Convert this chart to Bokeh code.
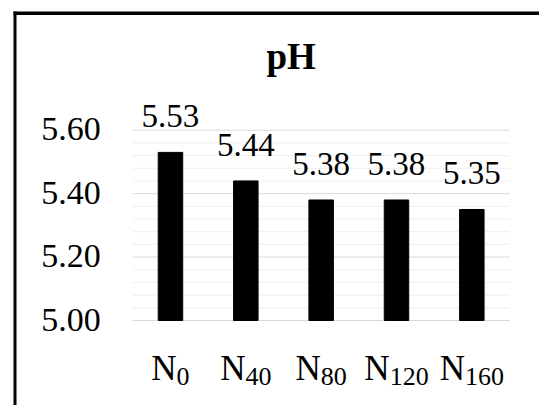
from bokeh.plotting import figure
from bokeh.models import ColumnDataSource, LabelSet, Label, Range1d, BoxAnnotation
from bokeh.embed import file_html
from bokeh.resources import INLINE

# ---- data ----
categories = ["N0", "N40", "N80", "N120", "N160"]
subscripts = ["0", "40", "80", "120", "160"]
ph_values = [5.53, 5.44, 5.38, 5.38, 5.35]
y_min, y_max = 5.0, 5.6
major_ticks = [5.0, 5.2, 5.4, 5.6]
minor_ticks = [5.04, 5.08, 5.12, 5.16, 5.24, 5.28, 5.32, 5.36,
               5.44, 5.48, 5.52, 5.56]
tick_labels = ["5.00", "5.20", "5.40", "5.60"]
title_text = "pH"

FONT = "Liberation Serif"

# layout (pixels on the canvas)
W, H = 539, 405
PLOT_L, PLOT_R = 132.3, 509.0      # plot area left/right
PLOT_T, PLOT_B = 129.7, 320.0      # plot area top/bottom
n = len(categories)
xpx = (PLOT_R - PLOT_L) / n
ypx = (PLOT_B - PLOT_T) / (y_max - y_min)
x_lo, x_hi = -PLOT_L / xpx, n + (W - PLOT_R) / xpx
y_lo, y_hi = y_min - (H - PLOT_B) / ypx, y_max + PLOT_T / ypx

N_W = 25.3   # approx width of "N" in px
D_W = 13.0   # approx width of a subscript digit in px
centers = [i + 0.5 for i in range(n)]
offsets = [N_W / 2 - len(s) * D_W / 2 for s in subscripts]

src = ColumnDataSource(dict(
    x=centers, cat=categories, val=ph_values,
    lbl=[f"{v:.2f}" for v in ph_values],
    sub=subscripts, base=[y_min] * n, nn=["N"] * n, off=offsets,
))

p = figure(width=W, height=H, x_range=Range1d(x_lo, x_hi), y_range=Range1d(y_lo, y_hi),
           x_axis_type=None, y_axis_type=None,
           output_backend="svg", toolbar_location=None, min_border=0)
p.outline_line_color = None
p.background_fill_color = "white"
p.border_fill_color = "white"
p.grid.visible = False

# grid lines over the plot area
p.segment(x0=0, x1=n, y0=minor_ticks, y1=minor_ticks, line_color="#eeeeee", line_width=1)
p.segment(x0=0, x1=n, y0=major_ticks, y1=major_ticks, line_color="#d9d9d9", line_width=1)

# bars
p.vbar(x="x", top="val", bottom=y_min, width=0.325, source=src,
       fill_color="black", line_color="black")

# y tick labels
tsrc = ColumnDataSource(dict(y=major_ticks, t=tick_labels, x0=[0] * len(major_ticks)))
p.add_layout(LabelSet(x="x0", y="y", text="t", source=tsrc, x_offset=-32, y_offset=1,
                      text_align="right", text_baseline="middle",
                      text_font=FONT, text_font_size="34px", text_color="black"))

# data labels
p.add_layout(LabelSet(x="x", y="val", text="lbl", source=src,
                      text_align="center", text_baseline="alphabetic",
                      y_offset=25, text_font=FONT, text_font_size="33px",
                      text_color="black"))

# category labels: N + subscript
p.add_layout(LabelSet(x="x", y="base", text="nn", source=src,
                      x_offset="off", y_offset=-59,
                      text_align="right", text_baseline="alphabetic",
                      text_font=FONT, text_font_size="35px", text_color="black"))
p.add_layout(LabelSet(x="x", y="base", text="sub", source=src,
                      x_offset="off", y_offset=-64,
                      text_align="left", text_baseline="alphabetic",
                      text_font=FONT, text_font_size="26px", text_color="black"))

# title
p.add_layout(Label(x=n / 2, y=y_max, x_offset=-30, y_offset=74, text=title_text,
                   text_align="center", text_baseline="alphabetic",
                   text_font=FONT, text_font_size="37px", text_font_style="bold",
                   text_color="black"))

# chart border (only top and left edges are visible)
bl = x_lo + 13 / xpx
br = x_lo + 16 / xpx
bt = y_hi - 11 / ypx
bb = y_hi - 14.5 / ypx
p.add_layout(BoxAnnotation(left=bl, right=br, top=bt, bottom=None,
                           fill_color="black", fill_alpha=1, line_color=None))
p.add_layout(BoxAnnotation(left=bl, right=None, top=bt, bottom=bb,
                           fill_color="black", fill_alpha=1, line_color=None))

open("out.html", "w").write(file_html(p, INLINE))
